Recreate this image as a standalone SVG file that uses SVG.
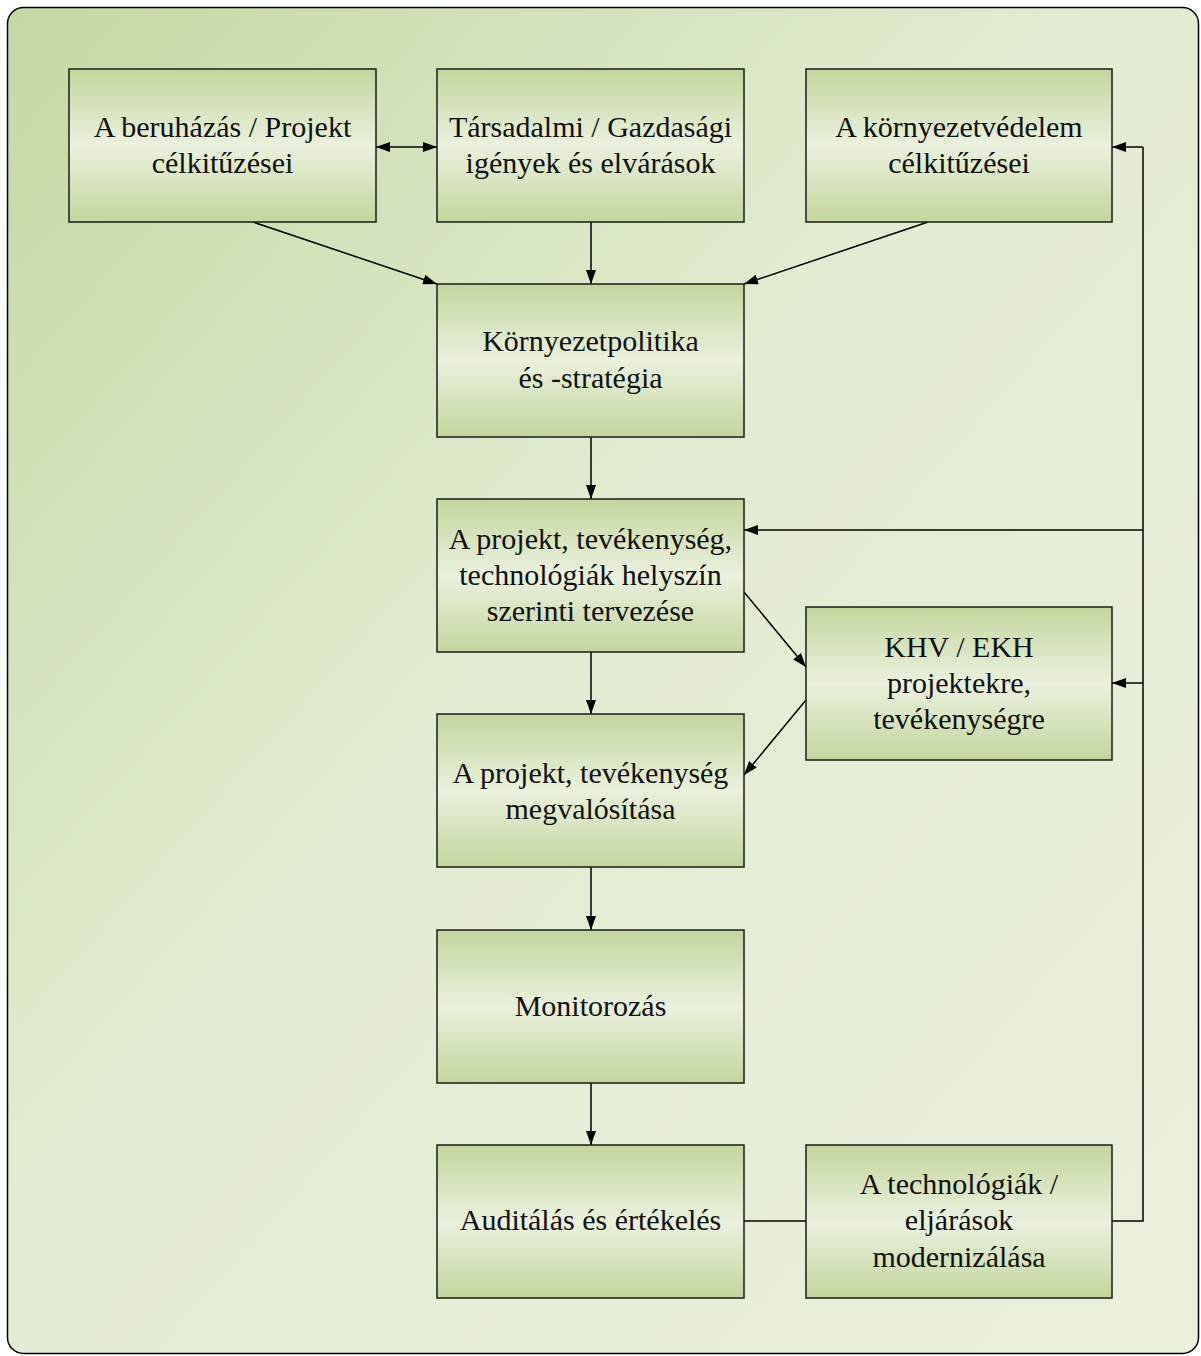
<svg xmlns="http://www.w3.org/2000/svg" width="1201" height="1356" viewBox="0 0 1201 1356">
<defs>
<linearGradient id="bg" x1="0" y1="0" x2="1" y2="1">
<stop offset="0" stop-color="#c5d8a2"/>
<stop offset="0.45" stop-color="#e2ecd2"/>
<stop offset="1" stop-color="#e9f0dc"/>
</linearGradient>
<linearGradient id="box" x1="0" y1="0" x2="0" y2="1">
<stop offset="0" stop-color="#c3d69d"/>
<stop offset="0.5" stop-color="#eaf1de"/>
<stop offset="1" stop-color="#c3d69d"/>
</linearGradient>
<marker id="ah" viewBox="0 0 14 10" refX="14" refY="5" markerWidth="14" markerHeight="10" markerUnits="userSpaceOnUse" orient="auto-start-reverse">
<path d="M0,0 L14,5 L0,10 z" fill="#000"/>
</marker>
</defs>
<style>
.n rect{fill:url(#box);stroke:#1a1a1a;stroke-width:1.5}
.n text{font-family:"Liberation Serif",serif;font-size:30px;fill:#111;text-anchor:middle}
.c line,.c polyline{stroke:#000;stroke-width:1.5;fill:none}
.a{marker-end:url(#ah)}
</style>
<rect x="7.5" y="7.5" width="1191" height="1346" rx="16" fill="url(#bg)" stroke="#000" stroke-width="1.5"/>
<g class="c">
<line class="a" x1="376" y1="147" x2="437" y2="147" marker-start="url(#ah)"/>
<line class="a" x1="253" y1="222" x2="437" y2="284"/>
<line class="a" x1="591" y1="222" x2="591" y2="284"/>
<line class="a" x1="928" y1="222" x2="744" y2="284"/>
<line class="a" x1="591" y1="437" x2="591" y2="499"/>
<line class="a" x1="591" y1="652" x2="591" y2="714"/>
<line class="a" x1="744" y1="592" x2="806" y2="667"/>
<line class="a" x1="806" y1="700" x2="744" y2="775"/>
<line class="a" x1="591" y1="867" x2="591" y2="930"/>
<line class="a" x1="591" y1="1083" x2="591" y2="1145"/>
<line x1="744" y1="1221" x2="806" y2="1221"/>
<polyline points="1112,1221 1143,1221 1143,147"/>
<line class="a" x1="1143" y1="147" x2="1112" y2="147"/>
<line class="a" x1="1143" y1="530" x2="744" y2="530"/>
<line class="a" x1="1143" y1="683" x2="1112" y2="683"/>
</g>
<g id="n1" class="n"><rect x="69" y="69" width="307" height="153"/><text x="222.5" y="137">A beruházás / Projekt</text><text x="222.5" y="173">célkitűzései</text></g>
<g id="n2" class="n"><rect x="437" y="69" width="307" height="153"/><text x="590.5" y="137">Társadalmi / Gazdasági</text><text x="590.5" y="173">igények és elvárások</text></g>
<g id="n3" class="n"><rect x="806" y="69" width="306" height="153"/><text x="959" y="137">A környezetvédelem</text><text x="959" y="173">célkitűzései</text></g>
<g id="n4" class="n"><rect x="437" y="284" width="307" height="153"/><text x="590.5" y="351">Környezetpolitika</text><text x="590.5" y="388">és -stratégia</text></g>
<g id="n5" class="n"><rect x="437" y="499" width="307" height="153"/><text x="590.5" y="549">A projekt, tevékenység,</text><text x="590.5" y="585">technológiák helyszín</text><text x="590.5" y="621">szerinti tervezése</text></g>
<g id="n6" class="n"><rect x="806" y="607" width="306" height="153"/><text x="959" y="657">KHV / EKH</text><text x="959" y="693">projektekre,</text><text x="959" y="729">tevékenységre</text></g>
<g id="n7" class="n"><rect x="437" y="714" width="307" height="153"/><text x="590.5" y="783">A projekt, tevékenység</text><text x="590.5" y="819">megvalósítása</text></g>
<g id="n8" class="n"><rect x="437" y="930" width="307" height="153"/><text x="590.5" y="1016">Monitorozás</text></g>
<g id="n9" class="n"><rect x="437" y="1145" width="307" height="153"/><text x="590.5" y="1230">Auditálás és értékelés</text></g>
<g id="n10" class="n"><rect x="806" y="1145" width="306" height="153"/><text x="959" y="1194">A technológiák /</text><text x="959" y="1230">eljárások</text><text x="959" y="1267">modernizálása</text></g>
</svg>
